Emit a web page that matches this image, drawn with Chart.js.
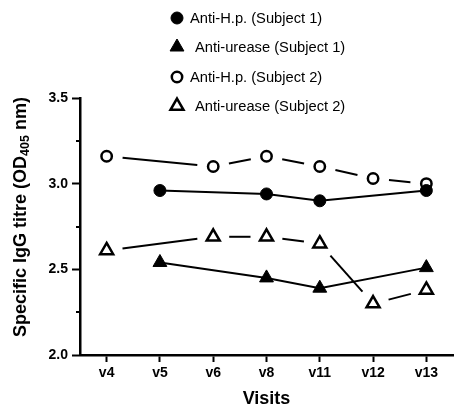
<!DOCTYPE html>
<html>
<head>
<meta charset="utf-8">
<script src="https://cdn.jsdelivr.net/npm/chart.js@4.4.0/dist/chart.umd.min.js"></script>
<style>
  html, body { margin: 0; padding: 0; background: #fff; overflow: hidden; }
  #wrap { position: relative; width: 463px; height: 411px; }
</style>
</head>
<body>
<div id="wrap"><canvas id="titreChart"></canvas></div>
<script>
// datos
const visits = ['v4', 'v5', 'v6', 'v8', 'v11', 'v12', 'v13'];
const hpSubject1 = [null, 2.96, null, 2.94, 2.90, null, 2.96];
const ureaseSubject1 = [null, 2.54, null, 2.45, 2.39, null, 2.51];
const hpSubject2 = [3.16, null, 3.10, 3.16, 3.10, 3.03, 3.00];
const ureaseSubject2 = [2.61, null, 2.69, 2.69, 2.65, 2.30, 2.38];
const seriesNames = ['Anti-H.p. (Subject 1)', 'Anti-urease (Subject 1)', 'Anti-H.p. (Subject 2)', 'Anti-urease (Subject 2)'];
const yMin = 2.0;
const yMax = 3.5;
const yStep = 0.5;
const yMinorTicks = [2.25, 2.75, 3.25];
const yTitle = ['Specific IgG titre (OD', '405', ' nm)'];
const xTitle = 'Visits';

const FONT = "'Liberation Sans', Arial, sans-serif";

// lineas de Subject 2: no tocan los marcadores
const gappedLines = {
  id: 'gappedLines',
  beforeDatasetsDraw(chart) {
    const ctx = chart.ctx;
    const gap = 16;
    chart.data.datasets.forEach((ds, i) => {
      if (!ds.gapped) return;
      const pts = chart.getDatasetMeta(i).data.filter((p, j) => ds.data[j] !== null);
      ctx.save();
      ctx.strokeStyle = '#000';
      ctx.lineWidth = 2;
      for (let k = 0; k < pts.length - 1; k++) {
        const a = pts[k], b = pts[k + 1];
        const dx = b.x - a.x, dy = b.y - a.y;
        const len = Math.sqrt(dx * dx + dy * dy);
        if (len <= gap * 2) continue;
        const ux = dx / len, uy = dy / len;
        ctx.beginPath();
        ctx.moveTo(a.x + ux * gap, a.y + uy * gap);
        ctx.lineTo(b.x - ux * gap, b.y - uy * gap);
        ctx.stroke();
      }
      ctx.restore();
    });
  }
};

// ticks menores, titulo Y con subindice y leyenda vertical
const extras = {
  id: 'extras',
  afterDraw(chart) {
    const ctx = chart.ctx;
    const y = chart.scales.y;
    ctx.save();
    ctx.strokeStyle = '#000';
    ctx.lineWidth = 2;
    yMinorTicks.forEach(v => {
      const py = Math.round(y.getPixelForValue(v));
      ctx.beginPath();
      ctx.moveTo(y.right - 4, py);
      ctx.lineTo(y.right, py);
      ctx.stroke();
    });

    // titulo eje Y
    const big = 'bold 18px ' + FONT;
    const small = 'bold 12.5px ' + FONT;
    ctx.font = big;
    const w1 = ctx.measureText(yTitle[0]).width;
    const w3 = ctx.measureText(yTitle[2]).width;
    ctx.font = small;
    const w2 = ctx.measureText(yTitle[1]).width;
    const total = w1 + w2 + w3;
    ctx.translate(21, 217);
    ctx.rotate(-Math.PI / 2);
    ctx.fillStyle = '#000';
    ctx.textBaseline = 'middle';
    ctx.textAlign = 'left';
    let x0 = -total / 2;
    ctx.font = big;
    ctx.fillText(yTitle[0], x0, 0);
    ctx.font = small;
    ctx.fillText(yTitle[1], x0 + w1, 5);
    ctx.font = big;
    ctx.fillText(yTitle[2], x0 + w1 + w2, 0);
    ctx.restore();

    // leyenda
    const rows = [18, 47, 77, 106];
    ctx.save();
    ctx.font = '14.7px ' + FONT;
    ctx.fillStyle = '#000';
    ctx.textBaseline = 'middle';
    chart.data.datasets.forEach((ds, i) => {
      ctx.strokeStyle = '#000';
      ctx.fillStyle = ds.pointBackgroundColor;
      ctx.lineWidth = ds.pointBorderWidth;
      Chart.helpers.drawPoint(ctx, {
        pointStyle: ds.pointStyle,
        radius: ds.pointRadius,
        borderWidth: ds.pointBorderWidth,
        rotation: 0
      }, 177, rows[i]);
      ctx.fillStyle = '#000';
      ctx.fillText(ds.label, ds.pointStyle === 'triangle' ? 195 : 190, rows[i] + 1);
    });
    ctx.restore();
  }
};

new Chart(document.getElementById('titreChart'), {
  type: 'line',
  data: {
    labels: visits,
    datasets: [
      {
        label: seriesNames[0],
        data: hpSubject1,
        borderColor: '#000',
        borderWidth: 2,
        pointStyle: 'circle',
        pointRadius: 6,
        pointBorderWidth: 1,
        pointBackgroundColor: '#000',
        pointBorderColor: '#000',
        spanGaps: true,
        tension: 0
      },
      {
        label: seriesNames[1],
        data: ureaseSubject1,
        borderColor: '#000',
        borderWidth: 2,
        pointStyle: 'triangle',
        pointRadius: 8,
        pointBorderWidth: 1,
        pointBackgroundColor: '#000',
        pointBorderColor: '#000',
        spanGaps: true,
        tension: 0
      },
      {
        label: seriesNames[2],
        data: hpSubject2,
        gapped: true,
        showLine: false,
        borderColor: '#000',
        pointStyle: 'circle',
        pointRadius: 5.2,
        pointBorderWidth: 2.5,
        pointBackgroundColor: '#fff',
        pointBorderColor: '#000'
      },
      {
        label: seriesNames[3],
        data: ureaseSubject2,
        gapped: true,
        showLine: false,
        borderColor: '#000',
        pointStyle: 'triangle',
        pointRadius: 7.5,
        pointBorderWidth: 2.5,
        pointBackgroundColor: '#fff',
        pointBorderColor: '#000'
      }
    ]
  },
  options: {
    responsive: true,
    maintainAspectRatio: false,
    animation: false,
    events: [],
    clip: false,
    layout: { padding: { top: 98, left: 0, right: 0, bottom: 0 } },
    plugins: {
      legend: { display: false },
      tooltip: { enabled: false }
    },
    scales: {
      x: {
        offset: true,
        border: { color: '#000', width: 2.5 },
        grid: { display: true, drawOnChartArea: false, offset: false, tickLength: 7, tickColor: '#000', tickWidth: 2 },
        ticks: { color: '#000', padding: 3, font: { family: FONT, size: 14, weight: 'bold' } },
        title: { display: true, text: xTitle, color: '#000', padding: { top: 0, bottom: 1 }, font: { family: FONT, size: 18, weight: 'bold' } },
        afterFit(scale) { scale.height = 56; }
      },
      y: {
        min: yMin,
        max: yMax,
        border: { color: '#000', width: 2.5 },
        grid: { display: true, drawOnChartArea: false, tickLength: 8, tickColor: '#000', tickWidth: 2 },
        ticks: {
          stepSize: yStep,
          color: '#000',
          padding: 4,
          font: { family: FONT, size: 14, weight: 'bold' },
          callback: v => v.toFixed(1)
        },
        afterFit(scale) { scale.width = 80; }
      }
    }
  },
  plugins: [gappedLines, extras]
});
</script>
</body>
</html>
